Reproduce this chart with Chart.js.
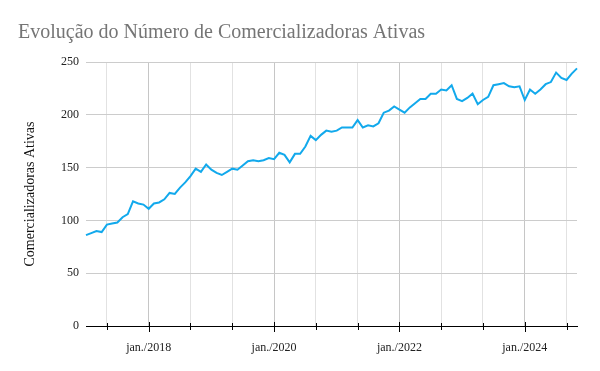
<!DOCTYPE html>
<html>
<head>
<meta charset="utf-8">
<script src="https://cdn.jsdelivr.net/npm/chart.js@4"></script>
<style>
  html, body { margin: 0; padding: 0; background: #fff; }
  #wrap { width: 600px; height: 371px; }
</style>
</head>
<body>
<div id="wrap"><canvas id="chart" width="600" height="371"></canvas></div>
<script>
// Monthly series, jan./2017 .. nov./2024
const monthNames = ['jan.', 'fev.', 'mar.', 'abr.', 'mai.', 'jun.', 'jul.', 'ago.', 'set.', 'out.', 'nov.', 'dez.'];
const years = [2017, 2018, 2019, 2020, 2021, 2022, 2023, 2024];
const values = [
    86, 88, 90, 89, 96, 97, 98, 103, 106, 118, 116, 115,
    111, 116, 117, 120, 126, 125, 131, 136, 142, 149, 146, 153,
    148, 145, 143, 146, 149, 148, 152, 156, 157, 156, 157, 159,
    158, 164, 162, 155, 163, 163, 170, 180, 176, 181, 185, 184,
    185, 188, 188, 188, 195, 188, 190, 189, 192, 202, 204, 208,
    205, 202, 207, 211, 215, 215, 220, 220, 224, 223, 228, 215,
    213, 216, 220, 210, 214, 217, 228, 229, 230, 227, 226, 227,
    214, 224, 220, 224, 229, 231, 240, 235, 233, 239, 244
];
const xTickLabels = ['jan./2018', 'jan./2020', 'jan./2022', 'jan./2024'];
const yTicks = [0, 50, 100, 150, 200, 250];

const labels = [];
years.forEach((y) => monthNames.forEach((m) => labels.push(m + '/' + y)));
labels.length = values.length;

// x ticks every 8 months, aligned on jan./2018
const firstLabelIdx = labels.indexOf(xTickLabels[0]);
const xTickIdx = [];
for (let i = firstLabelIdx % 8; i < values.length; i += 8) xTickIdx.push(i);
const isMajor = (idx) => xTickLabels.includes(labels[idx]);

const serif = '"Liberation Serif", "DejaVu Serif", serif';

// small black tick marks across the x axis line
const axisTicks = {
    id: 'axisTicks',
    afterDraw(chart) {
        const x = chart.scales.x;
        const ctx = chart.ctx;
        const base = chart.chartArea.bottom;
        ctx.save();
        ctx.strokeStyle = '#000';
        ctx.lineWidth = 1;
        x.ticks.forEach((t) => {
            const px = Math.round(x.getPixelForValue(t.value)) + 0.5;
            const major = isMajor(t.value);
            ctx.beginPath();
            ctx.moveTo(px, base - (major ? 4 : 3));
            ctx.lineTo(px, base + (major ? 6 : 4));
            ctx.stroke();
        });
        ctx.restore();
    }
};

new Chart(document.getElementById('chart'), {
    type: 'line',
    data: {
        labels: labels,
        datasets: [{
            data: values,
            borderColor: '#12a9ec',
            borderWidth: 2,
            pointRadius: 0,
            tension: 0,
            fill: false
        }]
    },
    options: {
        responsive: false,
        animation: false,
        layout: { padding: { left: 18, right: 23, top: 0, bottom: 0 } },
        plugins: {
            legend: { display: false },
            tooltip: { enabled: false },
            title: {
                display: true,
                text: 'Evolução do Número de Comercializadoras Ativas',
                align: 'start',
                color: '#757575',
                font: { family: serif, size: 20, weight: 'normal' },
                padding: { top: 21, bottom: 17 }
            }
        },
        scales: {
            x: {
                type: 'category',
                offset: false,
                afterBuildTicks: (scale) => {
                    scale.ticks = xTickIdx.map((v) => ({ value: v }));
                },
                afterFit: (scale) => { scale.height = 45; },
                ticks: {
                    autoSkip: false,
                    maxRotation: 0,
                    padding: 15,
                    color: '#222',
                    font: { family: serif, size: 12 },
                    callback: function (value) {
                        return isMajor(value) ? this.getLabelForValue(value) : '';
                    }
                },
                grid: {
                    drawTicks: false,
                    color: (c) => (c.tick && isMajor(c.tick.value) ? '#c6c6c6' : '#e2e2e2')
                },
                border: { display: true, color: '#000', width: 1 }
            },
            y: {
                min: 0,
                max: 250,
                afterBuildTicks: (scale) => {
                    scale.ticks = yTicks.map((v) => ({ value: v }));
                },
                afterFit: (scale) => { scale.width = 68; },
                ticks: {
                    padding: 7,
                    color: '#222',
                    font: { family: serif, size: 12 }
                },
                grid: { drawTicks: false, color: '#cccccc' },
                border: { display: false },
                title: {
                    display: true,
                    text: 'Comercializadoras Ativas',
                    color: '#111',
                    font: { family: serif, size: 14 },
                    padding: { top: 4, bottom: 0 }
                }
            }
        }
    },
    plugins: [axisTicks]
});
</script>
</body>
</html>
